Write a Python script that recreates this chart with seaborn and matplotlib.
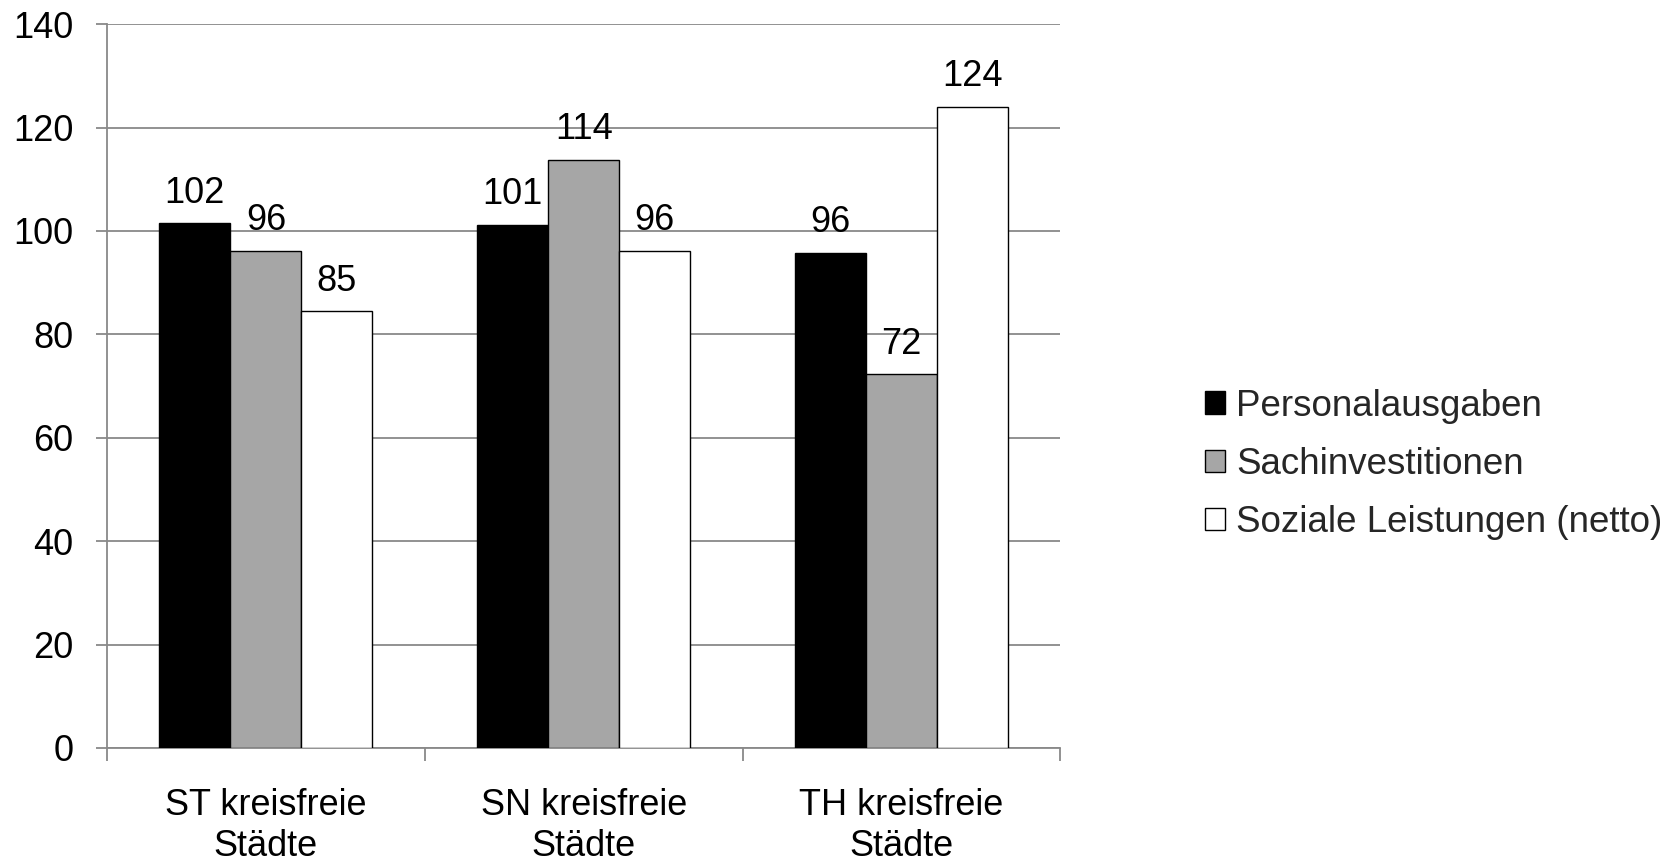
import matplotlib
matplotlib.use("Agg")
import matplotlib.pyplot as plt
import seaborn as sns
import pandas as pd

categories = ["ST kreisfreie\nStädte", "SN kreisfreie\nStädte", "TH kreisfreie\nStädte"]
series = ["Personalausgaben", "Sachinvestitionen", "Soziale Leistungen (netto)"]
personal = [101.5, 101.2, 95.8]
sach = [96.2, 113.8, 72.3]
sozial = [84.5, 96.2, 124.0]
labels_personal = ["102", "101", "96"]
labels_sach = ["96", "114", "72"]
labels_sozial = ["85", "96", "124"]
yticks = [0, 20, 40, 60, 80, 100, 120, 140]

rows = []
for s, vals in zip(series, [personal, sach, sozial]):
    for c, v in zip(categories, vals):
        rows.append({"cat": c, "series": s, "value": v})
df = pd.DataFrame(rows)

sns.set_theme(style="white")
plt.rcParams["font.family"] = ["Liberation Sans", "DejaVu Sans"]

fig = plt.figure(figsize=(16.77, 8.63), dpi=100)
ax = fig.add_axes([0.0638, 0.1333, 0.5685, 0.8387])

palette = {series[0]: "#000000", series[1]: "#a6a6a6", series[2]: "#ffffff"}
sns.barplot(data=df, x="cat", y="value", hue="series", palette=palette,
            width=0.67, gap=0, edgecolor="black", linewidth=1.0,
            saturation=1, ax=ax, legend=True, zorder=3)

ax.set_ylim(0, 140)
ax.set_xlim(-0.5, 2.5)
ax.set_yticks(yticks)
ax.set_yticklabels([str(t) for t in yticks])
ax.yaxis.grid(True, color="#898989", linewidth=1.3, zorder=0)
ax.set_axisbelow(True)
ax.set_xlabel("")
ax.set_ylabel("")

for sp in ["top", "right"]:
    ax.spines[sp].set_visible(False)
for sp in ["left", "bottom"]:
    ax.spines[sp].set_color("#898989")
    ax.spines[sp].set_linewidth(1.3)

ax.tick_params(axis="y", which="both", left=True, length=8, width=1.3,
               color="#898989", pad=16, labelsize=26, labelcolor="black")
ax.tick_params(axis="x", which="major", bottom=False, pad=23, labelsize=26,
               labelcolor="black")
ax.set_xticks([0, 1, 2])
ax.set_xticklabels(categories, linespacing=1.2)
ax.set_xticks([-0.5, 0.5, 1.5, 2.5], minor=True)
ax.tick_params(axis="x", which="minor", bottom=True, length=9, width=1.3,
               color="#898989", direction="out")

for cont, labs in zip(ax.containers, [labels_personal, labels_sach, labels_sozial]):
    ax.bar_label(cont, labels=labs, padding=9, fontsize=26, color="black")

handles, lbls = ax.get_legend_handles_labels()
ax.legend(handles, lbls, loc="center left", bbox_to_anchor=(0.7095, 0.462),
          bbox_transform=fig.transFigure, frameon=False, fontsize=26.5,
          handlelength=0.55, handleheight=0.55, handletextpad=0.3,
          labelspacing=0.63, borderaxespad=0)

fig.savefig("out.png", dpi=100, facecolor="white")
